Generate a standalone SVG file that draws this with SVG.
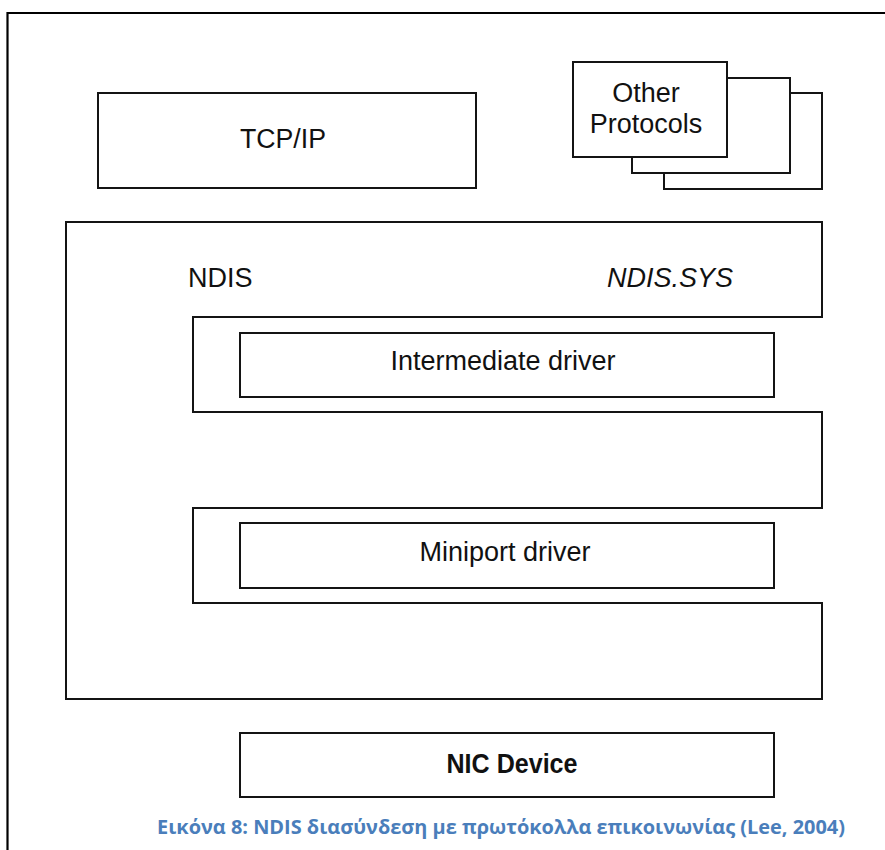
<svg xmlns="http://www.w3.org/2000/svg" width="885" height="850" viewBox="0 0 885 850">
  <style>
    .box { fill: #ffffff; stroke: #141414; stroke-width: 2; }
    .lbl { font-family: "Liberation Sans", Arial, sans-serif; font-size: 27px; fill: #111111; }
    .mid { text-anchor: middle; }
    .cap { font-family: "Open Sans", "Noto Sans", "DejaVu Sans", sans-serif; font-weight: bold; font-size: 20px; fill: #4a7ebb; }
  </style>
  <rect width="885" height="850" fill="#ffffff"/>

  <!-- page frame -->
  <path d="M885,13 H7.5 V850" fill="none" stroke="#000000" stroke-width="2.2"/>

  <!-- protocol layer -->
  <g id="tcpip">
    <rect class="box" x="98" y="93" width="378" height="95"/>
    <text class="lbl mid" x="283" y="148" textLength="86" lengthAdjust="spacingAndGlyphs">TCP/IP</text>
  </g>

  <g id="other-protocols">
    <rect class="box" x="664" y="93" width="158" height="96"/>
    <rect class="box" x="632" y="78" width="158" height="95"/>
    <rect class="box" x="573" y="62" width="154" height="95"/>
    <text class="lbl mid" x="646" y="102">Other</text>
    <text class="lbl mid" x="646" y="133">Protocols</text>
  </g>

  <!-- NDIS wrapper with two notches -->
  <g id="ndis">
    <path class="box" d="M66,222 H822 V317 H193 V412 H822 V508 H193 V603 H822 V699 H66 Z"/>
    <text class="lbl" x="188" y="287">NDIS</text>
    <text class="lbl" x="607" y="287" font-style="italic">NDIS.SYS</text>
  </g>

  <g id="intermediate-driver">
    <rect class="box" x="240" y="333" width="534" height="64"/>
    <text class="lbl mid" x="503" y="370">Intermediate driver</text>
  </g>

  <g id="miniport-driver">
    <rect class="box" x="240" y="523" width="534" height="65"/>
    <text class="lbl mid" x="505" y="561">Miniport driver</text>
  </g>

  <g id="nic-device">
    <rect class="box" x="240" y="733" width="534" height="64"/>
    <text class="lbl mid" x="512" y="773" font-weight="bold" textLength="131" lengthAdjust="spacingAndGlyphs">NIC Device</text>
  </g>

  <g id="connectors"/>

  <text class="cap" x="157" y="834" textLength="688" lengthAdjust="spacingAndGlyphs">Εικόνα 8: NDIS διασύνδεση με πρωτόκολλα επικοινωνίας (Lee, 2004)</text>
</svg>
